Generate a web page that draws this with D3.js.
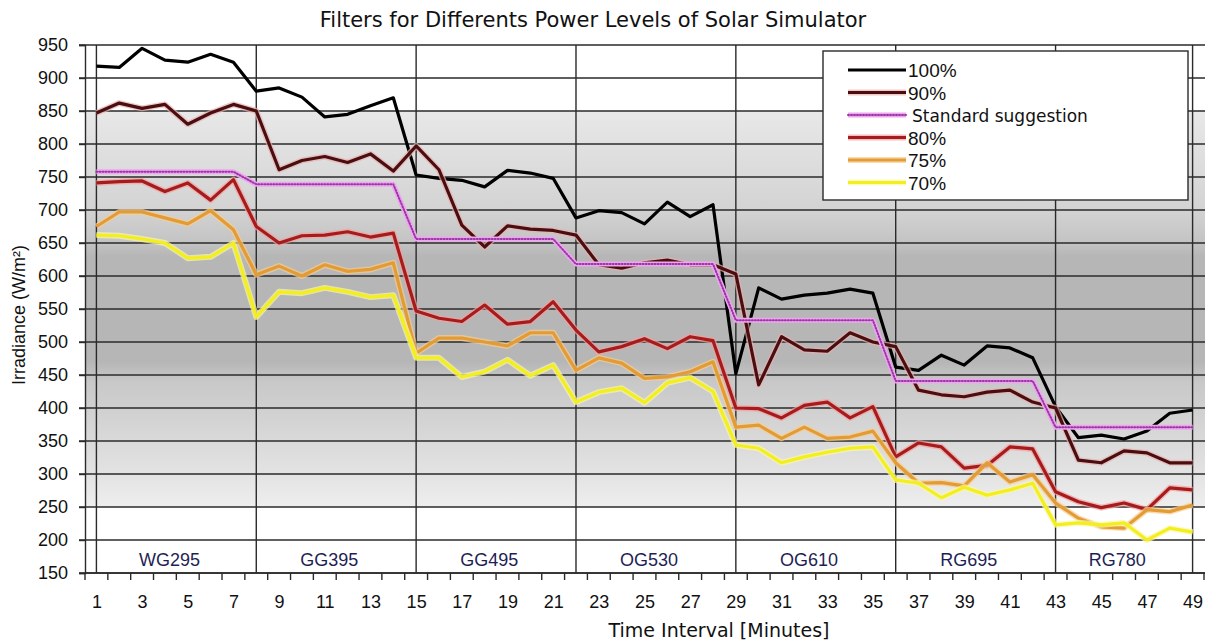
<!DOCTYPE html>
<html>
<head>
<meta charset="utf-8">
<script src="https://cdn.jsdelivr.net/npm/d3@7"></script>
<style>
  body { margin: 0; background: #fff; }
  svg { display: block; }
</style>
</head>
<body>
<svg id="chart" width="1207" height="641"></svg>
<script>
// time interval categories (minutes)
const minutes = d3.range(1, 50)

// irradiance readings (W/m2)
const p100 = [918, 916, 945, 927, 924, 936, 924, 880, 885, 871, 841, 845, 858, 870,
  753, 748, 745, 735, 760, 756, 748, 688, 699, 696, 679, 712, 690, 708,
  452, 582, 565, 571, 574, 580, 574, 462, 457, 480, 465, 494, 491, 476,
  402, 355, 359, 353, 365, 392, 397]
const p90 = [847, 862, 854, 860, 830, 847, 860, 850, 761, 775, 781, 772, 785, 759,
  797, 761, 677, 644, 676, 671, 669, 662, 617, 612, 620, 624, 617, 617,
  603, 435, 508, 488, 486, 514, 500, 493, 427, 420, 417, 424, 427, 409,
  400, 321, 317, 335, 332, 317, 317]
const standard = [758, 758, 758, 758, 758, 758, 758, 739, 739, 739, 739, 739, 739, 739,
  656, 656, 656, 656, 656, 656, 656, 618, 618, 618, 618, 618, 618, 618,
  533, 533, 533, 533, 533, 533, 533, 441, 441, 441, 441, 441, 441, 441,
  371, 371, 371, 371, 371, 371, 371]
const p80 = [741, 743, 744, 728, 741, 715, 746, 675, 650, 661, 662, 667, 659, 665,
  547, 536, 531, 556, 527, 531, 561, 518, 485, 493, 505, 490, 508, 502,
  400, 399, 385, 404, 409, 385, 402, 326, 347, 341, 309, 313, 341, 338,
  273, 258, 249, 256, 246, 279, 276]
const p75 = [675, 697, 697, 688, 679, 699, 670, 602, 615, 600, 617, 607, 610, 620,
  483, 506, 506, 500, 494, 514, 514, 457, 476, 468, 445, 447, 455, 470,
  371, 374, 354, 371, 354, 356, 365, 317, 286, 287, 282, 317, 288, 299,
  256, 233, 220, 218, 246, 243, 253]
const p70 = [662, 661, 656, 650, 627, 629, 650, 538, 576, 574, 582, 576, 568, 571,
  476, 476, 447, 455, 473, 449, 465, 409, 424, 430, 408, 438, 446, 425,
  344, 339, 317, 326, 333, 339, 341, 291, 286, 264, 280, 268, 276, 286,
  223, 226, 223, 226, 200, 218, 212]

const seriesNames = ['100%', '90%', 'Standard suggestion', '80%', '75%', '70%']
const seriesValues = [p100, p90, standard, p80, p75, p70]
const seriesColors = ['#000000', '#4b0e10', '#9c35a6', '#a61c1c', '#e39b36', '#f3ef1e']
const haloColors = [null, '#e8b0b0', '#eca6ee', '#f4a0a0', '#f6cf90', '#fbf8a8']

// optical filters, each starts at a minute
const filterNames = ['WG295', 'GG395', 'GG495', 'OG530', 'OG610', 'RG695', 'RG780']
const filterStarts = [1, 8, 15, 22, 29, 36, 43]

const yTicks = [150, 200, 250, 300, 350, 400, 450, 500, 550, 600, 650, 700, 750, 800, 850, 900, 950]
const xTickLabels = [1, 3, 5, 7, 9, 11, 13, 15, 17, 19, 21, 23, 25, 27, 29, 31, 33, 35, 37, 39, 41, 43, 45, 47, 49]

const plotLeft = 85
const plotRight = 1204
const plotTop = 45
const plotBottom = 573

const svg = d3.select('#chart')

const x = d3.scalePoint().domain(minutes).range([plotLeft, plotRight]).padding(0.5)
const step = x.step()
const y = d3.scaleLinear().domain([150, 950]).range([plotBottom, plotTop])

// minute -> x, also for fractional minutes
const xAt = (m) => x(1) + (m - 1) * step

// background shading
const grad = svg.append('defs').append('linearGradient')
  .attr('id', 'bg')
  .attr('x1', 0).attr('x2', 0).attr('y1', 0).attr('y2', 1)
const bgStops = [
  [950, '#ffffff'], [851, '#ffffff'], [850, '#e8e8e8'], [700, '#d3d3d3'],
  [650, '#c3c3c3'], [630, '#b6b6b6'], [470, '#b6b6b6'], [440, '#c8c8c8'],
  [300, '#e3e3e3'], [251, '#eeeeee'], [250, '#ffffff'], [150, '#ffffff']
]
bgStops.forEach(s => {
  grad.append('stop')
    .attr('offset', (950 - s[0]) / 800)
    .attr('stop-color', s[1])
})
svg.append('rect')
  .attr('x', plotLeft).attr('y', plotTop)
  .attr('width', plotRight - plotLeft + 1).attr('height', plotBottom - plotTop)
  .style('fill', 'url(#bg)')

// horizontal gridlines
svg.append('g').selectAll('line')
  .data(yTicks)
  .join('line')
  .attr('x1', plotLeft - 6).attr('x2', plotRight + 1)
  .attr('y1', d => y(d)).attr('y2', d => y(d))
  .style('stroke', '#2a2a2a')
  .style('stroke-width', 1.4)

// filter separators
const seps = filterStarts.concat([minutes[minutes.length - 1]])
svg.append('g').selectAll('line')
  .data(seps)
  .join('line')
  .attr('x1', d => x(d)).attr('x2', d => x(d))
  .attr('y1', plotTop).attr('y2', plotBottom)
  .style('stroke', '#2a2a2a')
  .style('stroke-width', 1.4)

// filter labels
svg.append('g').selectAll('text')
  .data(filterNames)
  .join('text')
  .attr('x', (d, i) => {
    const end = i < filterStarts.length - 1 ? filterStarts[i + 1] : minutes[minutes.length - 1]
    return xAt((filterStarts[i] + end) / 2 - 0.3)
  })
  .attr('y', 566)
  .attr('text-anchor', 'middle')
  .style('font-family', 'Liberation Sans, Arial, sans-serif')
  .style('font-size', '18px')
  .style('fill', '#1f1f55')
  .text(d => d)

// y axis
const yAxis = svg.append('g')
  .attr('transform', `translate(${plotLeft},0)`)
  .call(d3.axisLeft(y).tickValues(yTicks).tickSize(6).tickPadding(11))
yAxis.select('.domain').style('stroke', '#2a2a2a').style('stroke-width', 1.4)
yAxis.selectAll('line').style('stroke', '#2a2a2a').style('stroke-width', 1.4)
yAxis.selectAll('text')
  .style('font-family', 'Liberation Sans, Arial, sans-serif')
  .style('font-size', '18px')
  .style('fill', '#111')

// x axis: line with ticks between categories, labels on odd minutes
const xLine = svg.append('g')
xLine.append('line')
  .attr('x1', plotLeft).attr('x2', plotRight + 1)
  .attr('y1', plotBottom).attr('y2', plotBottom)
  .style('stroke', '#2a2a2a').style('stroke-width', 1.4)
xLine.selectAll('.xtick')
  .data(minutes.concat([minutes.length + 1]))
  .join('line')
  .attr('class', 'xtick')
  .attr('x1', d => xAt(d - 0.5)).attr('x2', d => xAt(d - 0.5))
  .attr('y1', plotBottom).attr('y2', plotBottom + 7)
  .style('stroke', '#2a2a2a').style('stroke-width', 1.4)

const xAxis = svg.append('g')
  .attr('transform', `translate(0,${plotBottom})`)
  .call(d3.axisBottom(x).tickValues(xTickLabels).tickSize(0).tickPadding(22))
xAxis.select('.domain').remove()
xAxis.selectAll('text')
  .style('font-family', 'Liberation Sans, Arial, sans-serif')
  .style('font-size', '18px')
  .style('fill', '#111')

// series lines
const line = d3.line()
  .x((d, i) => x(minutes[i]))
  .y(d => y(d))

const linesG = svg.append('g')
seriesValues.forEach((vals, k) => {
  if (haloColors[k]) {
    linesG.append('path')
      .attr('d', line(vals))
      .style('fill', 'none')
      .style('stroke', haloColors[k])
      .style('stroke-width', k === 2 ? 5 : 6)
      .style('stroke-opacity', k === 2 ? 1 : 0.7)
      .style('stroke-linejoin', 'round')
  }
  const p = linesG.append('path')
    .attr('d', line(vals))
    .style('fill', 'none')
    .style('stroke', seriesColors[k])
    .style('stroke-linejoin', 'round')
  if (k === 2) {
    p.style('stroke-width', 2)
      .style('stroke-dasharray', '1,2')
      .style('stroke-linecap', 'round')
  } else {
    p.style('stroke-width', 3.2)
  }
})

// legend
const legend = svg.append('g')
legend.append('rect')
  .attr('x', 823).attr('y', 51)
  .attr('width', 365).attr('height', 149)
  .style('fill', '#fff')
  .style('stroke', '#2a2a2a')
  .style('stroke-width', 1.4)

const rowY = (i) => 70 + i * 22.5
seriesNames.forEach((name, k) => {
  const yy = rowY(k)
  if (haloColors[k]) {
    legend.append('line')
      .attr('x1', 848).attr('x2', 906).attr('y1', yy).attr('y2', yy)
      .style('stroke', haloColors[k]).style('stroke-width', k === 2 ? 5 : 6)
      .style('stroke-opacity', k === 2 ? 1 : 0.7)
  }
  const l = legend.append('line')
    .attr('x1', 848).attr('x2', 906).attr('y1', yy).attr('y2', yy)
    .style('stroke', seriesColors[k])
  if (k === 2) {
    l.style('stroke-width', 2).style('stroke-dasharray', '1,2').style('stroke-linecap', 'round')
  } else {
    l.style('stroke-width', 3.2)
  }
  legend.append('text')
    .attr('x', k === 2 ? 912 : 908)
    .attr('y', yy + 7)
    .style('font-family', k === 2 ? 'DejaVu Sans, Verdana, sans-serif' : 'Liberation Sans, Arial, sans-serif')
    .style('font-size', k === 2 ? '17px' : '19px')
    .style('fill', '#111')
    .text(name)
})

// title and axis titles
svg.append('text')
  .attr('x', 593).attr('y', 27)
  .attr('text-anchor', 'middle')
  .style('font-family', 'DejaVu Sans, Verdana, sans-serif')
  .style('font-size', '21px')
  .style('fill', '#111')
  .text('Filters for Differents Power Levels of Solar Simulator')

svg.append('text')
  .attr('x', 719).attr('y', 637)
  .attr('text-anchor', 'middle')
  .style('font-family', 'DejaVu Sans, Verdana, sans-serif')
  .style('font-size', '19px')
  .style('fill', '#111')
  .text('Time Interval [Minutes]')

svg.append('text')
  .attr('transform', 'translate(25,315) rotate(-90)')
  .attr('text-anchor', 'middle')
  .style('font-family', 'Liberation Sans, Arial, sans-serif')
  .style('font-size', '18px')
  .style('fill', '#111')
  .text('Irradiance (W/m²)')
</script>
</body>
</html>
